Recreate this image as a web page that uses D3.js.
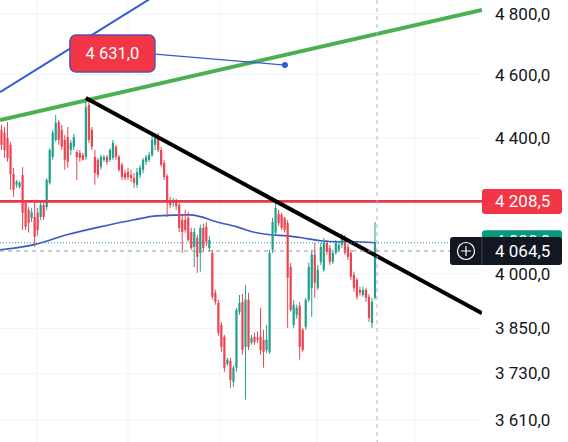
<!DOCTYPE html>
<html>
<head>
<meta charset="utf-8">
<style>
  body { margin: 0; background: #fff; }
  svg { display: block; font-family: Roboto, "Noto Sans", sans-serif; }
</style>
</head>
<body>
<div id="main"></div>
<script src="https://cdnjs.cloudflare.com/ajax/libs/d3/7.8.5/d3.min.js"></script>
<script>
// candles (index 0 = leftmost)
var opens = [4425,4416,4400,4379,4290,4258,4252,4287,4204,4184,4160,4163,4175,4163,4198,4192,4264,4342,4394,4450,
  4425,4394,4403,4363,4373,4357,4354,4348,4342,4503,4425,4342,4333,4312,4333,4342,4333,4339,4373,4342,
  4318,4293,4296,4287,4278,4258,4287,4303,4327,4333,4348,4379,4403,4363,4324,4284,4213,4204,4207,4198,
  4154,4154,4160,4119,4076,4102,4059,4131,4134,4073,4059,3947,3919,3859,3827,3755,3763,3708,3745,3895,
  3922,3800,3928,3811,3827,3824,3827,3819,3792,3787,4068,4117,4172,4169,4160,4145,4019,3859,3887,3911,
  3846,3854,3928,3961,4054,3961,4034,4011,4088,4073,4034,4059,4068,4082,4102,4076,4059,3997,3983,3955,
  3941,3955,3936,3865,3933];
var closes = [4379,4363,4339,4290,4243,4267,4264,4175,4134,4145,4177,4105,4125,4198,4163,4272,4363,4416,4447,4394,
  4373,4333,4327,4385,4403,4342,4339,4333,4497,4394,4373,4293,4287,4342,4342,4327,4363,4385,4342,4303,
  4281,4278,4281,4278,4264,4296,4309,4333,4342,4348,4394,4400,4363,4318,4281,4207,4198,4210,4195,4131,
  4119,4125,4096,4073,4119,4048,4131,4073,4091,4096,3936,3922,3838,3800,3745,3766,3713,3745,3900,3919,
  3792,3928,3800,3824,3813,3819,3792,3787,3819,4059,4148,4189,4145,4131,4125,3989,3900,3914,3906,3800,
  3792,3928,4019,4054,3975,4011,4076,4088,4062,4034,4059,4088,4082,4105,4059,4048,3992,3961,3936,3947,
  3955,3933,3878,3922,4088];
var highs = [4441,4434,4450,4388,4309,4272,4269,4311,4213,4192,4189,4207,4189,4213,4213,4278,4369,4425,4472,4456,
  4441,4409,4434,4394,4413,4363,4363,4354,4525,4519,4434,4363,4339,4348,4348,4348,4369,4394,4379,4348,
  4324,4303,4309,4303,4293,4309,4318,4339,4348,4357,4406,4416,4416,4373,4333,4290,4222,4219,4216,4204,
  4169,4184,4178,4131,4131,4111,4140,4143,4148,4108,4068,3955,3928,3867,3832,3771,3771,3750,3905,3941,
  3944,3969,3947,3832,3838,3841,3905,3846,3859,4068,4160,4204,4184,4175,4163,4154,4031,3928,3914,3922,
  3851,3933,4031,4068,4088,4025,4088,4102,4096,4082,4068,4096,4093,4114,4111,4085,4068,4006,3989,3964,
  3964,3961,3944,3933,4148];
var lows = [4363,4339,4327,4243,4222,4249,4246,4125,4125,4117,4148,4076,4108,4154,4154,4184,4258,4333,4388,4379,
  4363,4303,4309,4348,4363,4272,4327,4330,4333,4385,4363,4258,4278,4303,4327,4318,4327,4333,4333,4297,
  4272,4272,4272,4266,4249,4249,4278,4293,4318,4327,4342,4363,4357,4312,4272,4163,4189,4192,4184,4119,
  4059,4117,4091,4068,4019,4003,4006,4062,4079,4062,3928,3914,3830,3787,3734,3750,3692,3695,3734,3887,
  3779,3662,3792,3806,3806,3811,3779,3745,3784,3781,4059,4111,4137,4125,4117,3851,3895,3851,3876,3766,
  3787,3846,3922,3881,3933,3955,4025,4006,4054,4025,4028,4054,4062,4073,4054,4039,3983,3950,3928,3939,
  3936,3922,3867,3851,3928];

// moving average (blue)
var maIdx = [-0.5, 10.5, 21.7, 32.7, 43.7, 51.6, 62.6, 72.5, 78.2, 83.5, 89.1, 94.8, 100.1, 105.8, 111.4, 116.7, 124];
var maVal = [4068, 4082, 4111, 4134, 4154, 4166, 4169, 4146, 4134, 4119, 4111, 4108, 4102, 4094, 4091, 4091, 4088];

// drawings
var greenIdx = [-0.5, 159.5], greenVal = [4456, 4814];
var blackIdx = [28, 159.5],   blackVal = [4525, 3891];
var blueIdx  = [-0.5, 60],    blueVal  = [4544, 4920];
var noteIdx = 94.1, noteVal = 4631;
var levelVal = 4208.5;
var crossIdx = 124.7, crossVal = 4064.5;

var tickVals = [4800, 4600, 4400, 4000, 3850, 3730, 3610];
var gridIdx = [11.8, 42, 72.5, 104.8, 137.3];

var width = 568, height = 442, plotW = 482;
var up = "#22a08a", down = "#ec4452";

var fmt = d3.formatLocale({decimal: ",", thousands: " ", grouping: [3], currency: ["", ""]}).format(",.1f");

var svg = d3.select("#main").append("svg")
    .attr("width", width)
    .attr("height", height);

var xScale = d3.scaleLinear().domain([0, 124]).range([1.5, 375]);
var yScale = d3.scaleLog().domain([3610, 4800]).range([420, 14]);

svg.append("defs").append("clipPath").attr("id", "plot")
  .append("rect").attr("x", 0).attr("y", 0).attr("width", plotW).attr("height", height);

var plot = svg.append("g").attr("clip-path", "url(#plot)");

// grid
plot.selectAll(".hgrid").data(tickVals).enter().append("line")
    .attr("x1", 0).attr("x2", plotW)
    .attr("y1", function(d) { return yScale(d); })
    .attr("y2", function(d) { return yScale(d); })
    .style("stroke", "#f0f3fa");
plot.selectAll(".vgrid").data(gridIdx).enter().append("line")
    .attr("x1", function(d) { return xScale(d); })
    .attr("x2", function(d) { return xScale(d); })
    .attr("y1", 0).attr("y2", height)
    .style("stroke", "#f0f3fa");

// moving average
var pathLine = d3.line()
    .x(function(d) { return xScale(d[0]); })
    .y(function(d) { return yScale(d[1]); });

plot.append("path")
    .datum(d3.zip(maIdx, maVal))
    .attr("d", pathLine.curve(d3.curveMonotoneX))
    .style("fill", "none")
    .style("stroke", "#3b5bc4")
    .style("stroke-width", 1.6);
pathLine.curve(d3.curveLinear);

// candles
var candles = opens.map(function(o, i) {
  return {i: i, o: o, c: closes[i], h: highs[i], l: lows[i]};
});

var cg = plot.selectAll(".candle").data(candles).enter().append("g");
cg.append("line")
    .attr("x1", function(d) { return xScale(d.i); })
    .attr("x2", function(d) { return xScale(d.i); })
    .attr("y1", function(d) { return yScale(d.h); })
    .attr("y2", function(d) { return yScale(d.l); })
    .style("stroke", function(d) { return d.c >= d.o ? up : down; })
    .style("stroke-width", 1);
cg.append("rect")
    .attr("x", function(d) { return xScale(d.i) - 1.1; })
    .attr("width", 2.2)
    .attr("y", function(d) { return yScale(Math.max(d.o, d.c)); })
    .attr("height", function(d) { return Math.max(1, Math.abs(yScale(d.o) - yScale(d.c))); })
    .style("fill", function(d) { return d.c >= d.o ? up : down; });

// horizontal level
plot.append("line")
    .attr("x1", 0).attr("x2", plotW)
    .attr("y1", yScale(levelVal)).attr("y2", yScale(levelVal))
    .style("stroke", "#e8394a")
    .style("stroke-width", 2.6);

// trend lines
plot.append("path").datum(d3.zip(greenIdx, greenVal))
    .attr("d", pathLine)
    .style("stroke", "#4caf50").style("stroke-width", 4).style("fill", "none");
plot.append("path").datum(d3.zip(blackIdx, blackVal))
    .attr("d", pathLine)
    .style("stroke", "#000").style("stroke-width", 4).style("fill", "none");
plot.append("path").datum(d3.zip(blueIdx, blueVal))
    .attr("d", pathLine)
    .style("stroke", "#2f5bd3").style("stroke-width", 2).style("fill", "none");

// last price dotted line
var last = closes[closes.length - 1];
plot.append("line")
    .attr("x1", 0).attr("x2", plotW)
    .attr("y1", yScale(last)).attr("y2", yScale(last))
    .style("stroke", "#2a8fb0")
    .style("stroke-width", 1)
    .style("stroke-dasharray", "1,2");

// crosshair
svg.append("line")
    .attr("x1", xScale(crossIdx)).attr("x2", xScale(crossIdx))
    .attr("y1", 0).attr("y2", height)
    .style("stroke", "#b2b5be").style("stroke-dasharray", "4,4");
svg.append("line")
    .attr("x1", 0).attr("x2", 450)
    .attr("y1", yScale(crossVal)).attr("y2", yScale(crossVal))
    .style("stroke", "#9598a1").style("stroke-dasharray", "4,4");

// price note callout
var nx = xScale(noteIdx), ny = yScale(noteVal);
plot.append("line")
    .attr("x1", nx - 130).attr("y1", ny - 11)
    .attr("x2", nx).attr("y2", ny)
    .style("stroke", "#2f5bd3").style("stroke-width", 1.2);
plot.append("circle")
    .attr("cx", nx).attr("cy", ny).attr("r", 3)
    .style("fill", "#2f5bd3");
plot.append("rect")
    .attr("x", nx - 215).attr("y", ny - 30)
    .attr("width", 85).attr("height", 37).attr("rx", 6)
    .style("fill", "#f23645")
    .style("stroke", "#5a4fb0").style("stroke-width", 1.5);
plot.append("text")
    .attr("x", nx - 172.5).attr("y", ny - 11.5)
    .attr("dy", ".35em")
    .style("text-anchor", "middle")
    .style("font-size", "16.5px")
    .style("fill", "#fff")
    .text(fmt(noteVal));

// y axis labels
svg.selectAll(".ylab").data(tickVals).enter().append("text")
    .attr("x", 495)
    .attr("y", function(d) { return yScale(d); })
    .attr("dy", ".35em")
    .style("font-size", "17px")
    .style("fill", "#131722")
    .text(function(d) { return fmt(d); });

// price labels on the scale
function priceTag(val, fill, shift) {
  var y = yScale(val);
  svg.append("rect")
      .attr("x", 482).attr("y", y - 12.5)
      .attr("width", 80).attr("height", 25).attr("rx", 3)
      .style("fill", fill);
  svg.append("text")
      .attr("x", 495).attr("y", y + shift)
      .attr("dy", ".35em")
      .style("font-size", "17px")
      .style("fill", "#fff")
      .text(fmt(val));
}
priceTag(levelVal, "#f23645", 0);
priceTag(last, "#089981", -2);

// crosshair tag
var cy = yScale(crossVal);
svg.append("rect")
    .attr("x", 450).attr("y", cy - 14)
    .attr("width", 112).attr("height", 28).attr("rx", 3)
    .style("fill", "#131722");
svg.append("line")
    .attr("x1", 482).attr("x2", 482)
    .attr("y1", cy - 14).attr("y2", cy + 14)
    .style("stroke", "#434651");
svg.append("circle")
    .attr("cx", 466).attr("cy", cy).attr("r", 8.5)
    .style("fill", "none").style("stroke", "#fff").style("stroke-width", 1.2);
svg.append("path")
    .attr("d", "M461," + cy + "H471M466," + (cy - 5) + "V" + (cy + 5))
    .style("stroke", "#fff").style("stroke-width", 1.2);
svg.append("text")
    .attr("x", 495).attr("y", cy)
    .attr("dy", ".35em")
    .style("font-size", "17px")
    .style("fill", "#fff")
    .text(fmt(crossVal));
</script>
</body>
</html>
